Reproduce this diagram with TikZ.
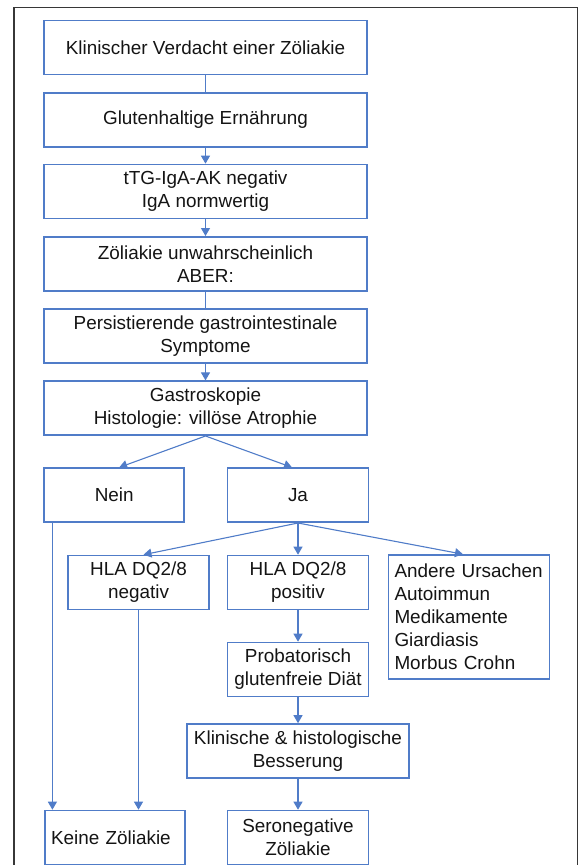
\documentclass[tikz,border=0pt]{standalone}
\usepackage{fontspec}
\setmainfont{Liberation Sans}
\usetikzlibrary{arrows.meta}
\definecolor{boxblue}{RGB}{80,124,200}
\definecolor{frameline}{RGB}{55,55,55}
\definecolor{textgray}{RGB}{20,20,20}

\begin{document}
\begin{tikzpicture}[
        x=1pt, y=-1pt,
        box/.style={rectangle, draw=boxblue, line width=1.6pt, minimum width=323pt, minimum height=54pt, align=center, inner sep=2pt, text=textgray, font=\fontsize{18.9}{23}\selectfont},
        small/.style={box, minimum width=141pt},
        list/.style={box, minimum width=0pt, text width=149pt, inner xsep=6pt, align=left},
        conn/.style={draw=boxblue, line width=1.1pt},
        >={Triangle[width=9pt,length=8pt]}
    ]
        \useasboundingbox (0,0) rectangle (581,865);

        % Frame
        \draw[frameline, line width=1.3pt] (14,870) -- (14,7.5) -- (577.5,7.5) -- (577.5,870);

        % Main column
        \node[box] (verdacht) at (205.5,47.5) {Klinischer Verdacht einer Zöliakie};
        \node[box] (gluten) at (205.5,119.7) {Glutenhaltige Ernährung};
        \node[box] (ttg) at (205.5,191.5) {tTG-IgA-AK negativ\\IgA normwertig};
        \node[box] (unwahr) at (205.5,263.8) {Zöliakie unwahrscheinlich\\ABER:};
        \node[box] (sympt) at (205.5,335.8) {Persistierende gastrointestinale\\Symptome};
        \node[box] (gastro) at (205.5,408.2) {Gastroskopie\\Histologie: villöse Atrophie};

        % Branches
        \node[small, minimum width=140pt] (nein) at (114.2,495.2) {Nein};
        \node[small] (ja) at (298,495.2) {Ja};
        \node[small] (hlaneg) at (138.5,582.5) {HLA DQ2/8\\negativ};
        \node[small] (hlapos) at (298,582.5) {HLA DQ2/8\\positiv};
        \node[list, minimum height=124pt] (andere) at (469,617) {Andere Ursachen\\Autoimmun\\Medikamente\\Giardiasis\\Morbus Crohn};
        \node[small] (probat) at (298,669.5) {Probatorisch\\glutenfreie Diät};
        \node[small, minimum width=222.5pt] (besser) at (298,751) {Klinische \& histologische\\Besserung};

        % Results
        \node[small, minimum width=140pt, text width=128pt, inner xsep=6pt, align=left] (keine) at (115,837.5) {Keine Zöliakie};
        \node[small] (seroneg) at (298,837.5) {Seronegative\\Zöliakie};
        \coordinate (neinfoot) at ([xshift=9pt]nein.south west);

        \draw[conn] (verdacht) -- (gluten);
        \draw[conn, ->] (gluten) -- (ttg);
        \draw[conn, ->] (ttg) -- (unwahr);
        \draw[conn] (unwahr) -- (sympt);
        \draw[conn, ->] (sympt) -- (gastro);
        \draw[conn, ->] (gastro.south) -- ([xshift=5pt]nein.north);
        \draw[conn, ->] (gastro.south) -- ([xshift=-6pt]ja.north);
        \draw[conn, ->] (ja.south) -- ([xshift=5pt]hlaneg.north);
        \draw[conn, ->] (ja) -- (hlapos);
        \draw[conn, ->] (ja.south) -- ([xshift=-6pt]andere.north);
        \draw[conn, ->] (hlapos) -- (probat);
        \draw[conn, ->] (probat) -- (besser);
        \draw[conn, ->] (besser) -- (seroneg);
        \draw[conn, ->] (neinfoot) -- (neinfoot |- keine.north);
        \draw[conn, ->] (hlaneg.south) -- (hlaneg.south |- keine.north);
    \end{tikzpicture}
\end{document}
